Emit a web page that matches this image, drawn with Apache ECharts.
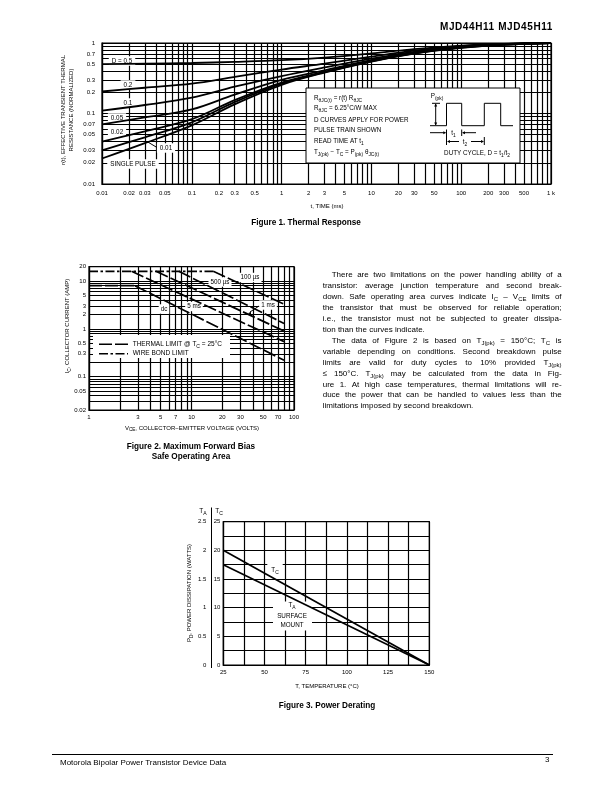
<!DOCTYPE html>
<html>
<head>
<meta charset="utf-8">
<script src="https://cdn.jsdelivr.net/npm/echarts@6/dist/echarts.min.js"></script>
<style>
html,body{margin:0;padding:0;background:#fff;}
#page{position:relative;width:612px;height:792px;overflow:hidden;font-family:"Liberation Sans",Arial,Helvetica,sans-serif;color:#000;}
#chart{position:absolute;left:0;top:0;width:612px;height:792px;}
.hdr{position:absolute;right:59px;top:21px;font-size:10px;font-weight:bold;letter-spacing:0.6px;white-space:nowrap;}
.cap{position:absolute;font-size:8.2px;font-weight:bold;text-align:center;white-space:nowrap;transform:translate(-50%,-50%);}
.ln{position:absolute;left:322.7px;width:239px;height:10px;line-height:10px;font-size:8px;white-space:nowrap;display:flex;justify-content:space-between;}
.ln.last{justify-content:flex-start;}
.ln.last span{margin-right:2.3px;}
.ln sub{font-size:6px;vertical-align:-2px;line-height:0;}
.foot{position:absolute;left:60px;top:757.5px;font-size:8px;white-space:nowrap;}
.pg{position:absolute;left:545px;top:755px;font-size:8px;}
.rule{position:absolute;left:52px;top:754px;width:501px;border-top:1px solid #000;}
</style>
</head>
<body>
<div id="page">
  <div id="chart"></div>
  <div class="hdr">MJD44H11 MJD45H11</div>
  <div class="cap" style="left:306px;top:222px;">Figure 1. Thermal Response</div>
  <div class="cap" style="left:191px;top:445.5px;">Figure 2. Maximum Forward Bias</div>
  <div class="cap" style="left:191px;top:456px;">Safe Operating Area</div>
  <div class="cap" style="left:327px;top:705px;">Figure 3. Power Derating</div>
  <div id="text"></div>
  <div class="rule"></div>
  <div class="foot">Motorola Bipolar Power Transistor Device Data</div>
  <div class="pg">3</div>
</div>
<script>
// ---------------- DATA ----------------
// Figure 1: thermal response (t in ms, r(t) normalized)
const fig1Time   = [0.01, 0.03, 0.1, 0.3, 1, 3, 10, 30, 100, 300, 1000];
const fig1D05    = [0.50, 0.51, 0.52, 0.54, 0.57, 0.62, 0.71, 0.82, 0.92, 0.97, 1.0];
const fig1D02    = [0.205, 0.232, 0.265, 0.33, 0.42, 0.51, 0.64, 0.78, 0.90, 0.965, 1.0];
const fig1D01    = [0.11, 0.132, 0.168, 0.24, 0.34, 0.45, 0.60, 0.75, 0.88, 0.96, 1.0];
const fig1D005   = [0.07, 0.088, 0.114, 0.185, 0.30, 0.41, 0.57, 0.73, 0.87, 0.955, 1.0];
const fig1D002   = [0.04, 0.056, 0.083, 0.155, 0.275, 0.39, 0.56, 0.72, 0.865, 0.95, 1.0];
const fig1D001   = [0.03, 0.046, 0.075, 0.145, 0.265, 0.385, 0.55, 0.715, 0.86, 0.95, 1.0];
const fig1Single = [0.023, 0.038, 0.068, 0.135, 0.255, 0.38, 0.545, 0.71, 0.855, 0.95, 1.0];
const fig1XTicks  = [0.01,0.02,0.03,0.05,0.1,0.2,0.3,0.5,1,2,3,5,10,20,30,50,100,200,300,500,1000];
const fig1XLabels = ['0.01','0.02','0.03','0.05','0.1','0.2','0.3','0.5','1','2','3','5','10','20','30','50','100','200','300','500','1 k'];
const fig1YTicks  = [0.01,0.02,0.03,0.05,0.07,0.1,0.2,0.3,0.5,0.7,1];
const fig1YLabels = ['0.01','0.02','0.03','0.05','0.07','0.1','0.2','0.3','0.5','0.7','1'];

// Figure 2: safe operating area (VCE volts, IC amps)
const fig2WireBondV = [1, 16.3];   const fig2WireBondI = [16, 16];
const fig2DcFlatV   = [1, 2.8];    const fig2DcFlatI   = [8, 8];
const fig2DcV       = [2.8, 80];   const fig2DcI       = [8, 0.22];
const fig2Ms5V      = [2.6, 80];   const fig2Ms5I      = [16, 0.54];
const fig2Ms1V      = [4.5, 80];   const fig2Ms1I      = [16, 0.9];
const fig2Us500V    = [7.5, 80];   const fig2Us500I    = [16, 1.3];
const fig2Us100V    = [16.3, 80];  const fig2Us100I    = [16, 3.3];
const fig2XTicks  = [1,3,5,7,10,20,30,50,70,100];
const fig2XLabels = ['1','3','5','7','10','20','30','50','70','100'];
const fig2YTicks  = [0.02,0.05,0.1,0.3,0.5,1,2,3,5,10,20];
const fig2YLabels = ['0.02','0.05','0.1','0.3','0.5','1','2','3','5','10','20'];

// Figure 3: power derating
const fig3Temp = [25, 150];
const fig3TC   = [20, 0];      // watts, TC scale
const fig3TA   = [1.75, 0];    // watts, TA scale

// ---------------- HELPERS ----------------
const FONT = '"Liberation Sans", Arial, Helvetica, sans-serif';
function decadeGrid(lo, hi) {
  const out = [];
  for (let e = lo; e < hi; e++) {
    for (let k = 1; k <= 9; k++) out.push(Number((k * Math.pow(10, e)).toPrecision(6)));
  }
  out.push(Math.pow(10, hi));
  return out;
}
function fmt(ticks, labels) {
  return function (v) {
    for (let i = 0; i < ticks.length; i++) if (Math.abs(v / ticks[i] - 1) < 1e-6) return labels[i];
    return '';
  };
}
function zip(a, b) { return a.map((x, i) => [x, b[i]]); }

function T(x, y, text, o) {
  o = o || {};
  const fs = o.fs || 6.3;
  return {
    type: 'text', x: x, y: y, z: o.z || 100, rotation: o.rot || 0, silent: true,
    style: {
      text: text, fill: '#000', fontSize: fs, fontFamily: FONT, fontWeight: o.bold ? 'bold' : 'normal',
      align: o.align || 'center', verticalAlign: o.va || 'middle',
      textAlign: o.align || 'center', textVerticalAlign: o.va || 'middle',
      backgroundColor: o.bg || null, padding: o.pad || 0, lineHeight: o.lh || fs * 1.5,
      rich: {
        s: { fontSize: fs * 0.78, fontFamily: FONT, verticalAlign: 'bottom', lineHeight: fs * 0.8, fill: '#000' }
      }
    }
  };
}
function L(x1, y1, x2, y2, o) {
  o = o || {};
  return { type: 'line', z: o.z || 100, silent: true, shape: { x1, y1, x2, y2 },
    style: { stroke: '#000', lineWidth: o.w || 1, lineDash: o.dash || null } };
}
function R(x, y, w, h, o) {
  o = o || {};
  return { type: 'rect', z: o.z || 1, silent: true, shape: { x, y, width: w, height: h },
    style: { fill: '#fff', stroke: o.stroke || null, lineWidth: o.lw || 1 } };
}
function arrow(x, y, dir, s) {
  s = s || 3; const h = s * 0.5;
  let pts;
  if (dir === 'r') pts = [[x, y], [x - s, y - h], [x - s, y + h]];
  if (dir === 'l') pts = [[x, y], [x + s, y - h], [x + s, y + h]];
  if (dir === 'u') pts = [[x, y], [x - h, y + s], [x + h, y + s]];
  if (dir === 'd') pts = [[x, y], [x - h, y - s], [x + h, y - s]];
  return { type: 'polygon', z: 100, silent: true, shape: { points: pts }, style: { fill: '#000' } };
}

// ---------------- CHART ----------------
const chart = echarts.init(document.getElementById('chart'), null, { renderer: 'canvas' });

const gridLine = { show: true, lineStyle: { color: '#000', width: 1.2, type: 'solid' } };
const axisLine = { show: true, lineStyle: { color: '#000', width: 1.2 } };
function logAxis(gi, min, max, gridVals, ticks, labels, lab) {
  return {
    type: 'log', logBase: 10, gridIndex: gi, min: min, max: max,
    axisLine: axisLine,
    axisTick: { show: false, customValues: gridVals },
    splitLine: gridLine,
    minorTick: { show: false }, minorSplitLine: { show: false },
    axisLabel: Object.assign({ show: true, customValues: ticks, formatter: fmt(ticks, labels),
      fontSize: 6, color: '#000', fontFamily: FONT, hideOverlap: false }, lab)
  };
}
function ln(name, xi, yi, data, w, dash) {
  return { name: name, type: 'line', xAxisIndex: xi, yAxisIndex: yi, data: data, symbol: 'none',
    smooth: false, silent: true, z: 5,
    lineStyle: { color: '#000', width: w || 1.7, type: dash || 'solid' } };
}
function cur(name, ys) {
  const s = ln(name, 0, 0, zip(fig1Time, ys), 1.8);
  s.smooth = 0.35;
  return s;
}

const dashThermal = [13, 3];
const dashWire = [9, 2.5, 2.5, 2.5];

const graphics = [
  // ---- Figure 1 annotations ----
  T(122, 61, 'D = 0.5', { bg: '#fff', pad: [0, 3], z: 3 }),
  T(128, 85, '0.2', { bg: '#fff', pad: [0, 3], z: 3 }),
  T(128, 103, '0.1', { bg: '#fff', pad: [0, 3], z: 3 }),
  T(117, 118, '0.05', { bg: '#fff', pad: [0, 3], z: 3 }),
  T(117, 132, '0.02', { bg: '#fff', pad: [0, 3], z: 3 }),
  T(166, 148, '0.01', { bg: '#fff', pad: [0, 3], z: 3 }),
  L(147, 141.5, 157, 147.5, { w: 1 }),
  T(133, 164, 'SINGLE PULSE', { bg: '#fff', pad: [0, 3], z: 3 }),
  R(306, 88, 214, 75, { stroke: '#000', lw: 1, z: 8 }),
  T(314, 98.5, 'R{s|θJC(t)} = r(t) R{s|θJC}', { align: 'left' }),
  T(314, 108, 'R{s|θJC} = 6.25°C/W MAX', { align: 'left' }),
  T(314, 120, 'D CURVES APPLY FOR POWER', { align: 'left' }),
  T(314, 130.5, 'PULSE TRAIN SHOWN', { align: 'left' }),
  T(314, 141, 'READ TIME AT t{s|1}', { align: 'left' }),
  T(314, 152, 'T{s|J(pk)} − T{s|C} = P{s|(pk)} θ{s|JC(t)}', { align: 'left' }),
  { type: 'polyline', z: 100, silent: true,
    shape: { points: [[430, 125.7], [446.5, 125.7], [446.5, 103.3], [461.7, 103.3], [461.7, 125.7],
      [484.3, 125.7], [484.3, 103.3], [500.7, 103.3], [500.7, 125.7], [513, 125.7]] },
    style: { stroke: '#000', fill: null, lineWidth: 1 } },
  T(437, 96, 'P{s|(pk)}', { align: 'center' }),
  L(435.7, 104, 435.7, 125), arrow(435.7, 103.5, 'u'), arrow(435.7, 125.5, 'd'),
  L(432, 103.3, 440, 103.3),
  L(430, 132.7, 444, 132.7), arrow(446.3, 132.7, 'r'), L(446.5, 129.5, 446.5, 145),
  T(453.5, 133.5, 't{s|1}'),
  L(461.7, 129.5, 461.7, 136), arrow(462, 132.7, 'l'), L(463, 132.7, 476, 132.7),
  arrow(447, 141.5, 'l'), L(448, 141.5, 459, 141.5),
  T(465, 142, 't{s|2}'),
  L(471, 141.5, 482, 141.5), arrow(484, 141.5, 'r'), L(484.3, 137, 484.3, 145),
  T(477, 153, 'DUTY CYCLE, D = t{s|1}/t{s|2}'),
  T(67.5, 110, 'r(t), EFFECTIVE TRANSIENT THERMAL\nRESISTANCE (NORMALIZED)', { rot: Math.PI / 2, lh: 8, fs: 6 }),
  T(327, 206, 't, TIME (ms)', { fs: 6 }),

  // ---- Figure 2 annotations ----
  T(250, 277.5, '100 µs', { bg: '#fff', pad: [0, 2], z: 3 }),
  T(220, 282, '500 µs', { bg: '#fff', pad: [0, 2], z: 3 }),
  T(268, 305, '1 ms', { bg: '#fff', pad: [0, 2], z: 3 }),
  L(259, 306, 250, 312), arrow(248, 313.3, 'l', 3),
  T(194, 306.5, '5 ms', { bg: '#fff', pad: [0, 2], z: 3 }),
  T(164, 309, 'dc', { bg: '#fff', pad: [0, 2], z: 3 }),
  R(93, 335, 137, 23, { z: 3 }),
  L(99, 344.3, 128, 344.3, { w: 1.6, dash: dashThermal, z: 4 }),
  T(132.7, 344, 'THERMAL LIMIT @ T{s|C} = 25°C', { align: 'left', z: 4, fs: 6.5 }),
  L(99, 353.7, 128, 353.7, { w: 1.6, dash: dashWire, z: 4 }),
  T(132.7, 353.5, 'WIRE BOND LIMIT', { align: 'left', z: 4, fs: 6.5 }),
  T(67.5, 326, 'I{s|C}, COLLECTOR CURRENT (AMP)', { rot: Math.PI / 2, fs: 6 }),
  T(192, 428, 'V{s|CE}, COLLECTOR−EMITTER VOLTAGE (VOLTS)', { fs: 6 }),

  // ---- Figure 3 annotations ----
  T(203, 511, 'T{s|A}', { fs: 6.5 }),
  T(219, 511, 'T{s|C}', { fs: 6.5 }),
  L(211.5, 507.5, 211.5, 668),
  T(275, 570, 'T{s|C}', { bg: '#fff', pad: [2, 4], z: 3 }),
  R(273, 601.5, 39, 29, { z: 1 }),
  T(292, 605, 'T{s|A}', { z: 100 }),
  T(292, 616.7, 'SURFACE', { z: 100 }),
  T(292, 625.7, 'MOUNT', { z: 100 }),
  T(189.5, 593, 'P{s|D}, POWER DISSIPATION (WATTS)', { rot: Math.PI / 2, fs: 6 }),
  T(327, 686, 'T, TEMPERATURE (°C)', { fs: 6 })
];

const option = {
  animation: false,
  backgroundColor: '#fff',
  grid: [
    { left: 102, top: 43, width: 449, height: 141, show: true, borderColor: '#000', borderWidth: 1.2, backgroundColor: 'transparent', containLabel: false, outerBoundsMode: 'none' },
    { left: 89, top: 266.7, width: 205, height: 143.3, show: true, borderColor: '#000', borderWidth: 1.2, backgroundColor: 'transparent', containLabel: false, outerBoundsMode: 'none' },
    { left: 223.3, top: 521.7, width: 206, height: 143.3, show: true, borderColor: '#000', borderWidth: 1.2, backgroundColor: 'transparent', containLabel: false, outerBoundsMode: 'none' }
  ],
  xAxis: [
    logAxis(0, 0.01, 1000, decadeGrid(-2, 3), fig1XTicks, fig1XLabels, { margin: 6 }),
    logAxis(1, 1, 100, decadeGrid(0, 2), fig2XTicks, fig2XLabels, { margin: 4 }),
    { type: 'value', gridIndex: 2, min: 25, max: 150, interval: 12.5,
      axisLine: axisLine, axisTick: { show: false }, splitLine: gridLine,
      axisLabel: { fontSize: 6, color: '#000', fontFamily: FONT, margin: 4, hideOverlap: false,
        formatter: v => (Math.abs(v % 25) < 1e-6 ? String(v) : '') } }
  ],
  yAxis: [
    logAxis(0, 0.01, 1, decadeGrid(-2, 0), fig1YTicks, fig1YLabels, { margin: 7 }),
    logAxis(1, 0.02, 20, decadeGrid(-2, 2).filter(v => v >= 0.02 && v <= 20), fig2YTicks, fig2YLabels, { margin: 3 }),
    { type: 'value', gridIndex: 2, min: 0, max: 25, interval: 2.5, position: 'left',
      axisLine: axisLine, axisTick: { show: false }, splitLine: gridLine,
      axisLabel: { fontSize: 6, color: '#000', fontFamily: FONT, margin: 3, hideOverlap: false,
        formatter: v => (Math.abs(v % 5) < 1e-6 ? String(v) : '') } },
    { type: 'value', gridIndex: 2, min: 0, max: 2.5, interval: 0.5, position: 'left', offset: 10,
      axisLine: { show: false }, axisTick: { show: false }, splitLine: { show: false },
      axisLabel: { fontSize: 6, color: '#000', fontFamily: FONT, margin: 7, hideOverlap: false } }
  ],
  series: [
    cur('D = 0.5', fig1D05),
    cur('0.2', fig1D02),
    cur('0.1', fig1D01),
    cur('0.05', fig1D005),
    cur('0.02', fig1D002),
    cur('0.01', fig1D001),
    cur('SINGLE PULSE', fig1Single),
    ln('WIRE BOND LIMIT', 1, 1, zip(fig2WireBondV, fig2WireBondI), 1.8, dashWire),
    ln('THERMAL LIMIT dc flat', 1, 1, zip(fig2DcFlatV, fig2DcFlatI), 1.8, dashThermal),
    ln('dc', 1, 1, zip(fig2DcV, fig2DcI), 1.7, dashThermal),
    ln('5 ms', 1, 1, zip(fig2Ms5V, fig2Ms5I), 1.7, dashThermal),
    ln('1 ms', 1, 1, zip(fig2Ms1V, fig2Ms1I), 1.7, dashThermal),
    ln('500 µs', 1, 1, zip(fig2Us500V, fig2Us500I), 1.7, dashThermal),
    ln('100 µs', 1, 1, zip(fig2Us100V, fig2Us100I), 1.7, dashThermal),
    ln('TC', 2, 2, zip(fig3Temp, fig3TC), 1.7),
    ln('TA', 2, 3, zip(fig3Temp, fig3TA), 1.7)
  ],
  graphic: { elements: graphics }
};
chart.setOption(option);

// ---------------- BODY TEXT ----------------
const paraLines = [
  { t: 'There are two limitations on the power handling ability of a', indent: true },
  { t: 'transistor: average junction temperature and second break-' },
  { t: 'down. Safe operating area curves indicate I<sub>C</sub> – V<sub>CE</sub> limits of' },
  { t: 'the transistor that must be observed for reliable operation;' },
  { t: 'i.e., the transistor must not be subjected to greater dissipa-' },
  { t: 'tion than the curves indicate.', last: true },
  { t: 'The data of Figure 2 is based on T<sub>J(pk)</sub> = 150°C; T<sub>C</sub> is', indent: true },
  { t: 'variable depending on conditions. Second breakdown pulse' },
  { t: 'limits are valid for duty cycles to 10% provided T<sub>J(pk)</sub>' },
  { t: '≤ 150°C.  T<sub>J(pk)</sub> may be calculated from the data in Fig-' },
  { t: 'ure 1. At high case temperatures, thermal limitations will re-' },
  { t: 'duce the power that can be handled to values less than the' },
  { t: 'limitations imposed by second breakdown.', last: true }
];
const host = document.getElementById('text');
paraLines.forEach((p, i) => {
  const d = document.createElement('div');
  d.className = 'ln' + (p.last ? ' last' : '');
  const cy = 275 + i * 10.95;
  d.style.top = (cy - 5) + 'px';
  if (p.indent) { d.style.left = '331.7px'; d.style.width = '230px'; }
  d.innerHTML = p.t.split(' ').filter(w => w.length).map(w => '<span>' + w + '</span>').join('');
  host.appendChild(d);
});
</script>
</body>
</html>
